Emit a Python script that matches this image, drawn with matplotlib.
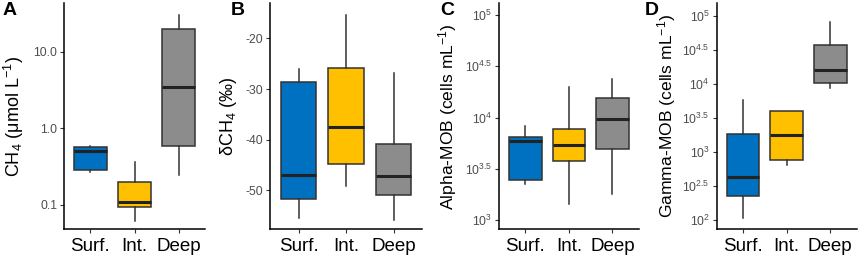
import matplotlib
matplotlib.use("Agg")
import matplotlib.pyplot as plt
from matplotlib.ticker import FixedLocator, FixedFormatter, NullLocator
import numpy as np

plt.rcParams['font.family'] = ['Liberation Sans', 'DejaVu Sans']
plt.rcParams['mathtext.fontset'] = 'custom'
plt.rcParams['mathtext.rm'] = 'Liberation Sans'
plt.rcParams['mathtext.it'] = 'Liberation Sans:italic'
plt.rcParams['mathtext.default'] = 'regular'

categories = ["Surf.", "Int.", "Deep"]
colors = ["#0070C0", "#FFC000", "#8C8C8C"]

# Panel A: CH4 (umol/L)  [whislo, q1, med, q3, whishi]
ch4 = {
    "Surf.": [0.27, 0.286, 0.51, 0.563, 0.58],
    "Int.":  [0.062, 0.093, 0.107, 0.197, 0.36],
    "Deep":  [0.246, 0.58, 3.5, 19.8, 30.3],
}
# Panel B: dCH4 (permil)
dch4 = {
    "Surf.": [-55.5, -51.7, -47.05, -28.6, -26.1],
    "Int.":  [-49.1, -44.9, -37.4, -25.9, -15.3],
    "Deep":  [-55.9, -50.85, -47.2, -40.9, -26.8],
}
# Panel C: Alpha-MOB, log10(cells/mL)
alpha_log = {
    "Surf.": [3.35, 3.393, 3.77, 3.809, 3.92],
    "Int.":  [3.152, 3.575, 3.735, 3.893, 4.30],
    "Deep":  [3.259, 3.697, 3.983, 4.187, 4.374],
}
# Panel D: Gamma-MOB, log10(cells/mL)
gamma_log = {
    "Surf.": [2.025, 2.36, 2.632, 3.27, 3.768],
    "Int.":  [2.81, 2.878, 3.249, 3.607, 3.607],
    "Deep":  [3.94, 4.02, 4.205, 4.578, 4.917],
}

W, H = 858, 259
fig = plt.figure(figsize=(W/100, H/100), dpi=100)

def add_ax(left, right, top=3, bottom=229.3):
    return fig.add_axes([left/W, 1-bottom/H, (right-left)/W, (bottom-top)/H])

def draw(ax, data, scale=None):
    stats = []
    for c in categories:
        lo, q1, med, q3, hi = data[c]
        if scale == 'exp':
            lo, q1, med, q3, hi = [10**v for v in (lo, q1, med, q3, hi)]
        stats.append(dict(whislo=lo, q1=q1, med=med, q3=q3, whishi=hi, fliers=[], label=c))
    b = ax.bxp(stats, positions=[1, 2, 3], widths=0.75, patch_artist=True,
               showcaps=False, showfliers=False,
               boxprops=dict(edgecolor="#333333", linewidth=1.1),
               whiskerprops=dict(color="#333333", linewidth=1.1),
               medianprops=dict(color="#222222", linewidth=2.2, solid_capstyle='butt'))
    for p, col in zip(b['boxes'], colors):
        p.set_facecolor(col)
    ax.set_xlim(0.4, 3.6)
    for s in ['top', 'right']:
        ax.spines[s].set_visible(False)
    for s in ['left', 'bottom']:
        ax.spines[s].set_linewidth(1.1)
        ax.spines[s].set_color('black')
    ax.tick_params(axis='both', length=3, width=0.8, color='#333333')
    ax.tick_params(axis='y', labelsize=8.8, labelcolor='#4D4D4D', pad=2)
    ax.tick_params(axis='x', labelsize=13.5, labelcolor='black', pad=3)
    ax.set_xticks([1, 2, 3])
    ax.set_xticklabels(categories)
    ax.yaxis.set_minor_locator(NullLocator())

def ylab(ax, text, xpix, left, right, size=12.6):
    ax.set_ylabel(text, fontsize=size)
    ax.yaxis.set_label_coords((xpix - left) / (right - left), 0.5)

# Panel A
axA = add_ax(64, 205)
draw(axA, ch4)
axA.set_yscale('log')
axA.set_ylim(0.0477, 43.5)
axA.yaxis.set_major_locator(FixedLocator([0.1, 1.0, 10.0]))
axA.yaxis.set_major_formatter(FixedFormatter(["0.1", "1.0", "10.0"]))
axA.yaxis.set_minor_locator(NullLocator())
ylab(axA, "CH$_4$ (μmol L$^{-1}$)", 26, 64, 205, 13)

# Panel B
axB = add_ax(270, 422)
draw(axB, dch4)
axB.set_ylim(-57.7, -13.0)
axB.set_yticks([-50, -40, -30, -20])
axB.set_yticklabels(["-50", "-40", "-30", "-20"])
ylab(axB, "δCH$_4$ (‰)", 239, 270, 422, 13)

# Panel C
axC = add_ax(499.3, 638.5)
draw(axC, alpha_log, scale='exp')
axC.set_yscale('log')
axC.set_ylim(10**2.91, 10**5.117)
ctk = [3, 3.5, 4, 4.5, 5]
axC.yaxis.set_major_locator(FixedLocator([10**t for t in ctk]))
axC.yaxis.set_major_formatter(FixedFormatter(["$10^{%g}$" % t for t in ctk]))
axC.yaxis.set_minor_locator(NullLocator())
ylab(axC, "Alpha-MOB (cells mL$^{-1}$)", 459, 499.3, 638.5)

# Panel D
axD = add_ax(716.7, 856.5)
draw(axD, gamma_log, scale='exp')
axD.set_yscale('log')
axD.set_ylim(10**1.864, 10**5.19)
dtk = [2, 2.5, 3, 3.5, 4, 4.5, 5]
axD.yaxis.set_major_locator(FixedLocator([10**t for t in dtk]))
axD.yaxis.set_major_formatter(FixedFormatter(["$10^{%g}$" % t for t in dtk]))
axD.yaxis.set_minor_locator(NullLocator())
ylab(axD, "Gamma-MOB (cells mL$^{-1}$)", 678, 716.7, 856.5)

for lbl, x in zip("ABCD", [3, 231, 440, 645]):
    fig.text(x / W, 1 - 2 / H, lbl, fontsize=14, fontweight='bold', ha='left', va='top')

fig.savefig("out.png", dpi=100)
